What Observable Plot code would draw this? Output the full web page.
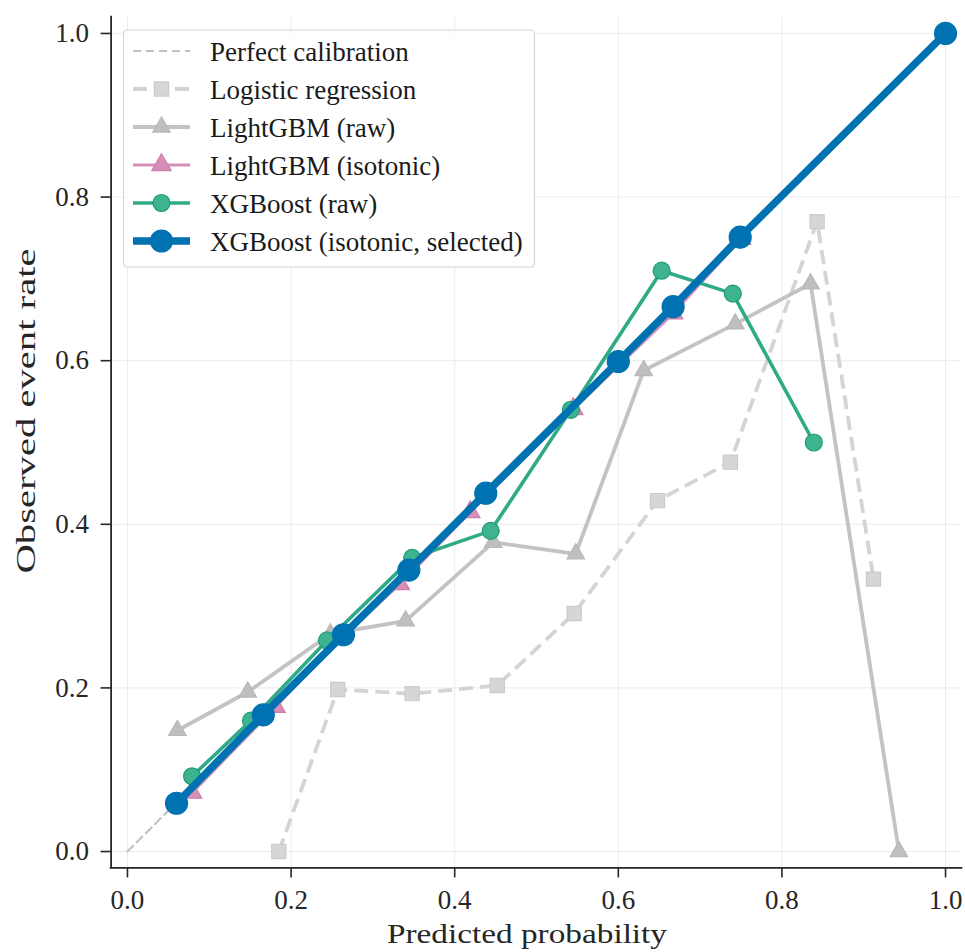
<!DOCTYPE html>
<html>
<head>
<meta charset="utf-8">
<script src="https://cdn.jsdelivr.net/npm/d3@7"></script>
<script src="https://cdn.jsdelivr.net/npm/@observablehq/plot@0.6"></script>
<style>
  html, body { margin: 0; padding: 0; background: white; }
  #chart svg { display: block; }
  #chart svg text { font-family: "Liberation Serif", "Times New Roman", Tinos, serif !important; }
</style>
</head>
<body>
<div id="chart"></div>
<script>
// ---- data ----
const tickValues = [0, 0.2, 0.4, 0.6, 0.8, 1.0];

const perfectX = [0, 1];
const perfectY = [0, 1];

const lrX = [0.185, 0.257, 0.348, 0.452, 0.546, 0.648, 0.737, 0.843, 0.912];
const lrY = [0.000, 0.198, 0.193, 0.203, 0.291, 0.429, 0.476, 0.770, 0.333];

const lgbRawX = [0.061, 0.147, 0.248, 0.340, 0.447, 0.548, 0.631, 0.743, 0.835, 0.943];
const lgbRawY = [0.148, 0.195, 0.266, 0.282, 0.378, 0.364, 0.588, 0.645, 0.694, 0.000];

const lgbIsoX = [0.079, 0.181, 0.262, 0.333, 0.419, 0.545, 0.667, 0.750];
const lgbIsoY = [0.072, 0.177, 0.262, 0.327, 0.415, 0.541, 0.658, 0.749];

const xgbRawX = [0.079, 0.151, 0.244, 0.348, 0.444, 0.542, 0.653, 0.740, 0.839];
const xgbRawY = [0.092, 0.160, 0.258, 0.359, 0.392, 0.540, 0.710, 0.682, 0.500];

const xgbIsoX = [0.060, 0.166, 0.264, 0.344, 0.438, 0.600, 0.667, 0.749, 1.000];
const xgbIsoY = [0.059, 0.167, 0.265, 0.344, 0.438, 0.599, 0.666, 0.751, 1.000];

const seriesNames = [
  "Perfect calibration",
  "Logistic regression",
  "LightGBM (raw)",
  "LightGBM (isotonic)",
  "XGBoost (raw)",
  "XGBoost (isotonic, selected)"
];

const zip = (xs, ys) => xs.map((x, i) => ({x, y: ys[i]}));
const perfect = zip(perfectX, perfectY);
const lr = zip(lrX, lrY);
const lgbRaw = zip(lgbRawX, lgbRawY);
const lgbIso = zip(lgbIsoX, lgbIsoY);
const xgbRaw = zip(xgbRawX, xgbRawY);
const xgbIso = zip(xgbIsoX, xgbIsoY);

// ---- styles ----
const FONT = "Liberation Serif, Times New Roman, Tinos, serif";
const AX = "#262626";
const S = {
  perfect: {stroke: "#c2c2c2", strokeWidth: 2.2, strokeDasharray: "8,5"},
  lr: {stroke: "#d4d4d4", strokeWidth: 3.8, strokeDasharray: "14,7",
       sym: "square", r: 8, fill: "#d6d6d6", dotStroke: "#cbcbcb"},
  lgbRaw: {stroke: "#c3c3c3", strokeWidth: 3.8,
       sym: "triangle", r: 6.5, fill: "#bfbfbf", dotStroke: "#b8b8b8"},
  lgbIso: {stroke: "#d690b8", strokeWidth: 3.2,
       sym: "triangle", r: 7.2, fill: "#d68fb7", dotStroke: "#cc7fab"},
  xgbRaw: {stroke: "#2faa86", strokeWidth: 3.6,
       sym: "circle", r: 8.5, fill: "#3db38f", dotStroke: "#1f9c77"},
  xgbIso: {stroke: "#0072B2", strokeWidth: 7.5,
       sym: "circle", r: 11, fill: "#0072B2", dotStroke: "#0072B2"}
};

function seriesMarks(data, s) {
  return [
    Plot.line(data, {x: "x", y: "y", stroke: s.stroke, strokeWidth: s.strokeWidth,
      strokeDasharray: s.strokeDasharray, strokeLinejoin: "round", strokeLinecap: "butt"}),
    Plot.dot(data, {x: "x", y: "y", symbol: s.sym, r: s.r, fill: s.fill,
      stroke: s.dotStroke, strokeWidth: 1.2})
  ];
}

const chart = Plot.plot({
  width: 965,
  height: 952,
  marginLeft: 110.6,
  marginRight: 3.6,
  marginTop: 16.6,
  marginBottom: 84.6,
  style: {fontFamily: FONT, background: "white", overflow: "visible"},
  x: {domain: [-0.02, 1.02]},
  y: {domain: [-0.02, 1.02]},
  marks: [
    Plot.gridX(tickValues, {stroke: "#ebebeb", strokeOpacity: 1, strokeWidth: 1}),
    Plot.gridY(tickValues, {stroke: "#ebebeb", strokeOpacity: 1, strokeWidth: 1}),
    Plot.line(perfect, {x: "x", y: "y", ...S.perfect}),
    ...seriesMarks(lr, S.lr),
    ...seriesMarks(lgbRaw, S.lgbRaw),
    ...seriesMarks(lgbIso, S.lgbIso),
    ...seriesMarks(xgbRaw, S.xgbRaw),
    ...seriesMarks(xgbIso, S.xgbIso),
    Plot.axisX(tickValues, {tickSize: 10, tickPadding: 12, tickFormat: d3.format(".1f"),
      fontSize: 27, color: AX, strokeWidth: 1.6, label: null, fontFamily: FONT}),
    Plot.axisY(tickValues, {tickSize: 10, tickPadding: 12, tickFormat: d3.format(".1f"),
      fontSize: 27, color: AX, strokeWidth: 1.6, label: null, fontFamily: FONT}),
    Plot.ruleX([-0.02], {stroke: AX, strokeWidth: 1.8, strokeLinecap: "square"}),
    Plot.ruleY([-0.02], {stroke: AX, strokeWidth: 1.8, strokeLinecap: "square"})
  ]
});

document.getElementById("chart").appendChild(chart);

// ---- axis labels and legend (drawn on the same SVG) ----
const svg = d3.select(chart);

svg.append("text")
  .attr("x", 527).attr("y", 943)
  .attr("text-anchor", "middle")
  .attr("font-family", FONT).attr("font-size", 28)
  .attr("fill", AX)
  .attr("textLength", 280).attr("lengthAdjust", "spacingAndGlyphs")
  .text("Predicted probability");

svg.append("text")
  .attr("transform", "translate(35,411) rotate(-90)")
  .attr("text-anchor", "middle")
  .attr("font-family", FONT).attr("font-size", 28)
  .attr("fill", AX)
  .attr("textLength", 325).attr("lengthAdjust", "spacingAndGlyphs")
  .text("Observed event rate");

const lg = svg.append("g");
lg.append("rect")
  .attr("x", 123.5).attr("y", 30).attr("width", 411).attr("height", 237)
  .attr("rx", 4).attr("fill", "white").attr("fill-opacity", 0.85)
  .attr("stroke", "#d4d4d4").attr("stroke-width", 1.2);

const legendStyles = [S.perfect, S.lr, S.lgbRaw, S.lgbIso, S.xgbRaw, S.xgbIso];
const symMap = {square: d3.symbolSquare, triangle: d3.symbolTriangle, circle: d3.symbolCircle};
seriesNames.forEach((name, i) => {
  const s = legendStyles[i];
  const cy = 51 + 38 * i;
  lg.append("line")
    .attr("x1", 133).attr("x2", 190).attr("y1", cy).attr("y2", cy)
    .attr("stroke", s.stroke).attr("stroke-width", s.strokeWidth)
    .attr("stroke-dasharray", s.strokeDasharray || null);
  if (s.sym) {
    lg.append("path")
      .attr("transform", `translate(161.5,${cy})`)
      .attr("d", d3.symbol(symMap[s.sym], Math.PI * s.r * s.r)())
      .attr("fill", s.fill).attr("stroke", s.dotStroke).attr("stroke-width", 1.2);
  }
  lg.append("text")
    .attr("x", 210).attr("y", cy + 10)
    .attr("text-anchor", "start")
    .attr("font-family", FONT).attr("font-size", 27)
    .attr("fill", "#1a1a1a")
    .text(name);
});
</script>
</body>
</html>
